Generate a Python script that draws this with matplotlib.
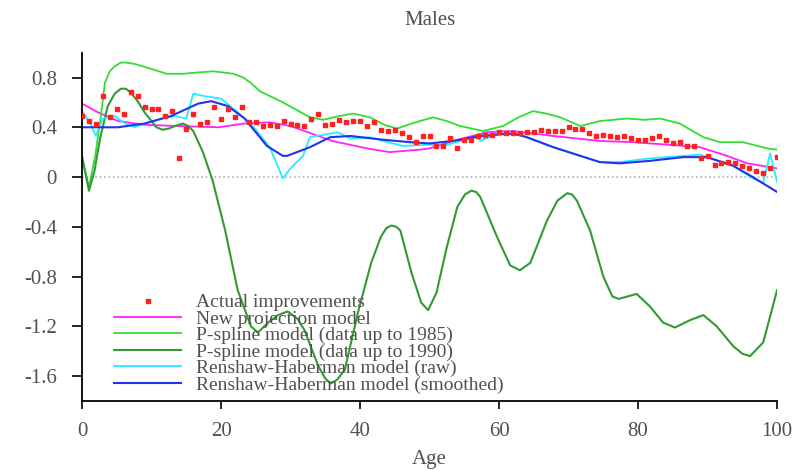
import numpy as np
import matplotlib
matplotlib.use("Agg")
import matplotlib.pyplot as plt

plt.rcParams['font.family'] = ['Liberation Serif', 'DejaVu Serif']

# Actual improvements (one per age)
ages_actual = np.arange(0, 101)
actual = [0.49, 0.45, 0.43, 0.65, 0.48, 0.55, 0.51, 0.68, 0.65, 0.56,
          0.55, 0.55, 0.49, 0.53, 0.15, 0.39, 0.51, 0.43, 0.44, 0.56,
          0.47, 0.55, 0.48, 0.56, 0.44, 0.44, 0.41, 0.42, 0.41, 0.45,
          0.43, 0.42, 0.41, 0.47, 0.51, 0.42, 0.43, 0.46, 0.44, 0.45,
          0.45, 0.41, 0.44, 0.38, 0.37, 0.38, 0.35, 0.32, 0.28, 0.33,
          0.33, 0.25, 0.25, 0.31, 0.23, 0.30, 0.30, 0.33, 0.34, 0.34,
          0.36, 0.35, 0.35, 0.35, 0.36, 0.36, 0.38, 0.37, 0.37, 0.37,
          0.40, 0.39, 0.39, 0.35, 0.33, 0.34, 0.33, 0.32, 0.33, 0.31,
          0.30, 0.30, 0.31, 0.33, 0.30, 0.27, 0.28, 0.25, 0.25, 0.15,
          0.17, 0.10, 0.11, 0.12, 0.11, 0.09, 0.07, 0.05, 0.03, 0.07,
          0.16]

# New projection model
new_age = [0, 2.3, 5.2, 9, 13.8, 19.6, 23.4, 27, 30, 33, 36, 41, 44.3, 48.6,
           50, 53.4, 58.2, 62, 67.8, 74.5, 79.3, 84.2, 88.9, 92.8, 95.7, 100]
new_val = [0.59, 0.52, 0.45, 0.42, 0.41, 0.40, 0.43, 0.44, 0.41, 0.35, 0.29,
           0.23, 0.20, 0.22, 0.23, 0.29, 0.36, 0.37, 0.33, 0.29, 0.28, 0.26,
           0.24, 0.17, 0.11, 0.07]

# P-spline model (data up to 1985)
ps85_age = [0, 1, 1.9, 2.6, 3.3, 4.0, 4.7, 5.6, 6.4, 7.5, 8.8, 10.5, 12.2,
            14.5, 16.5, 18.9, 21.8, 23.2, 24.2, 25.6, 28.9, 32.8, 34.7, 37,
            39, 41.4, 43.5, 45.3, 48, 50.5, 52.5, 54.4, 57.7, 60.6, 62.8,
            64.9, 66.8, 68.8, 71.7, 74.5, 78.4, 81, 83.2, 86, 89.4, 91.8,
            95.1, 98.6, 100]
ps85_val = [0.15, -0.08, 0.17, 0.44, 0.76, 0.85, 0.89, 0.92, 0.92, 0.91, 0.89,
            0.86, 0.83, 0.83, 0.84, 0.85, 0.83, 0.80, 0.76, 0.69, 0.60, 0.48,
            0.46, 0.49, 0.51, 0.48, 0.42, 0.39, 0.44, 0.48, 0.45, 0.41, 0.37,
            0.41, 0.48, 0.53, 0.51, 0.48, 0.41, 0.45, 0.47, 0.46, 0.47, 0.43,
            0.32, 0.28, 0.28, 0.23, 0.22]

# P-spline model (data up to 1990)
ps90_age = [0, 1, 1.8, 2.6, 3.7, 4.7, 5.6, 6.3, 7, 8, 9, 10.7, 11.6, 12.5,
            13.4, 14.5, 15.3, 16, 17.4, 18.8, 20.6, 22.4, 24.3, 25.3, 26.8,
            28.2, 29.6, 31, 32, 34, 35, 35.8, 36.7, 37.8, 39.7, 41.6, 43,
            43.8, 44.5, 45.2, 45.8, 47.4, 48.8, 49.8, 51, 52.5, 54, 55.1, 56,
            56.7, 57.3, 59.7, 61.6, 63, 64.5, 66.9, 68.4, 69.8, 70.5, 71.2,
            73.1, 75, 76.3, 77.2, 78.5, 79.8, 81.7, 83.6, 85.3, 87.5, 89.4,
            91.3, 93.7, 95, 96.1, 98, 100]
ps90_val = [0.17, -0.11, 0.05, 0.31, 0.57, 0.67, 0.71, 0.71, 0.68, 0.61, 0.52,
            0.40, 0.38, 0.39, 0.41, 0.43, 0.41, 0.37, 0.20, -0.03, -0.43,
            -0.91, -1.20, -1.25, -1.17, -1.11, -1.08, -1.14, -1.23, -1.52,
            -1.62, -1.66, -1.63, -1.55, -1.09, -0.69, -0.48, -0.41, -0.39,
            -0.40, -0.43, -0.77, -1.01, -1.07, -0.93, -0.56, -0.24, -0.14,
            -0.11, -0.12, -0.16, -0.48, -0.71, -0.75, -0.69, -0.35, -0.19,
            -0.13, -0.14, -0.19, -0.43, -0.80, -0.96, -0.98, -0.96, -0.94,
            -1.04, -1.17, -1.21, -1.15, -1.11, -1.20, -1.36, -1.42, -1.44,
            -1.33, -0.91]

# Renshaw-Haberman model (raw)
rh_raw_age = [0, 1.1, 2, 3, 4.7, 6.2, 7.6, 9, 11.4, 13.4, 15, 16, 17.7, 20,
              22.4, 24.3, 27, 28.9, 30, 31.8, 32.8, 33.8, 36.8, 38.6, 41.4,
              43.3, 46.2, 50, 52, 54.4, 56.8, 57.3, 59.7, 63, 64, 67.8, 71.7,
              74.5, 77.4, 81.7, 86.5, 88.9, 93.7, 96.5, 98, 99, 100]
rh_raw_val = [0.53, 0.44, 0.33, 0.47, 0.49, 0.43, 0.40, 0.43, 0.47, 0.49, 0.47,
              0.67, 0.65, 0.63, 0.52, 0.43, 0.24, -0.01, 0.07, 0.17, 0.32, 0.33,
              0.36, 0.31, 0.32, 0.29, 0.25, 0.26, 0.25, 0.29, 0.32, 0.29, 0.35,
              0.34, 0.32, 0.24, 0.17, 0.12, 0.12, 0.15, 0.17, 0.18, 0.09, -0.01,
              -0.05, 0.19, -0.04]

# Renshaw-Haberman model (smoothed)
rh_sm_age = [0, 5.2, 9, 12.8, 16.7, 18.6, 21, 23.4, 25.3, 26.6, 28.9, 29.5,
             32.8, 35.7, 38.6, 43.3, 47.2, 50, 53.4, 57.3, 62, 64, 67.8, 71.7,
             74.5, 77.4, 81.7, 86.5, 89.9, 93.7, 96.5, 100]
rh_sm_val = [0.40, 0.40, 0.43, 0.49, 0.59, 0.61, 0.57, 0.47, 0.34, 0.25, 0.17,
             0.17, 0.24, 0.32, 0.33, 0.30, 0.28, 0.27, 0.29, 0.33, 0.35, 0.32,
             0.24, 0.17, 0.12, 0.11, 0.13, 0.16, 0.16, 0.09, 0.00, -0.12]

text_col = '#505050'

fig = plt.figure(figsize=(8.04, 4.70), dpi=100)
ax = fig.add_axes([0.102, 0.147, 0.8645, 0.741])

ax.axhline(0, color='#b0b0b0', linestyle=':', linewidth=1.2, zorder=1)

ax.plot(ages_actual, actual, linestyle='none', marker='s', markersize=2.5,
        color='#ff2020', label='Actual improvements', zorder=5)
ax.plot(new_age, new_val, color='#ff22ff', lw=1.3, label='New projection model')
ax.plot(ps85_age, ps85_val, color='#33dd33', lw=1.3,
        label='P-spline model (data up to 1985)')
ax.plot(ps90_age, ps90_val, color='#339933', lw=1.5,
        label='P-spline model (data up to 1990)')
ax.plot(rh_raw_age, rh_raw_val, color='#22eeff', lw=1.3,
        label='Renshaw-Haberman model (raw)')
ax.plot(rh_sm_age, rh_sm_val, color='#2233ee', lw=1.5,
        label='Renshaw-Haberman model (smoothed)')

ax.set_xlim(0, 100)
ax.set_ylim(-1.8, 1.0)
ax.set_xticks([0, 20, 40, 60, 80, 100])
ax.set_yticks([0.8, 0.4, 0, -0.4, -0.8, -1.2, -1.6])
ax.set_yticklabels(['0.8', '0.4', '0', '-0.4', '-0.8', '-1.2', '-1.6'])

for s in ['top', 'right']:
    ax.spines[s].set_visible(False)
for s in ['left', 'bottom']:
    ax.spines[s].set_linewidth(1.3)
ax.tick_params(axis='both', labelsize=15, labelcolor=text_col, width=1.2)
ax.tick_params(axis='y', length=7, pad=11)
ax.tick_params(axis='x', length=6, pad=9)

ax.set_title('Males', fontsize=15, color=text_col, pad=20)
ax.set_xlabel('Age', fontsize=15, color=text_col, labelpad=7)

leg = ax.legend(loc='lower left', bbox_to_anchor=(0.035, -0.002), frameon=False,
                fontsize=14, handlelength=3.45, handletextpad=0.75,
                labelspacing=-0.06, borderaxespad=0)
for t in leg.get_texts():
    t.set_color(text_col)

fig.savefig('out.png', dpi=100)
